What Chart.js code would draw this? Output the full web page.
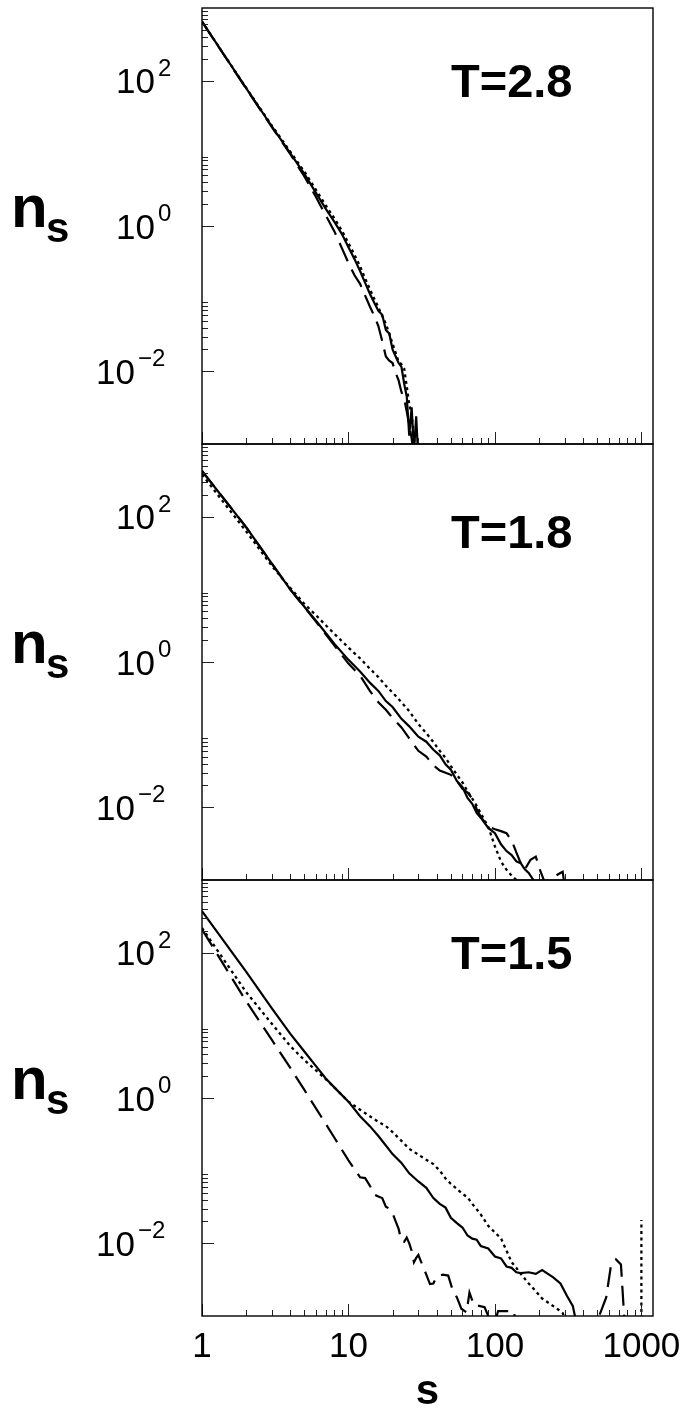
<!DOCTYPE html>
<html>
<head>
<meta charset="utf-8">
<script src="https://cdn.jsdelivr.net/npm/chart.js@4.4.1/dist/chart.umd.min.js"></script>
<style>
html,body{margin:0;padding:0;background:#fff;overflow:hidden;}
#wrap{position:relative;width:687px;height:1412px;}
canvas{position:absolute;left:0;top:0;}
</style>
</head>
<body>
<div id="wrap">
<canvas id="c1"></canvas>
<canvas id="c2"></canvas>
<canvas id="c3"></canvas>
</div>
<script>
// ---------------- data ----------------
// Panel T=2.8
const s1 = [1,2,3,4,5,6,7,8,9,10,11,12,13,14,15,16,17,18,19,20,21,22,23,24,25,26,27,28,29,30];
const solid1  = [650,79,23.4,10.1,5.2,2.86,1.72,1.15,0.78,0.51,0.35,0.24,0.165,0.117,0.088,0.068,0.060,0.037,0.033,0.020,0.016,0.013,0.0115,0.0068,0.0045,0.0013,0.0032,0.0008,0.0024,0.0006];
const dotted1 = [650,80,24,10.6,5.6,3.15,1.92,1.28,0.87,0.58,0.40,0.28,0.19,0.135,0.10,0.076,0.058,0.045,0.033,0.024,0.018,0.0135,0.0125,0.011,0.0062,0.0035,0.0026,0.0012,0.0007,0.0004];
const dashed1 = [650,78,23,9.8,4.8,2.5,1.4,0.85,0.5,0.31,0.21,0.16,0.11,0.078,0.058,0.042,0.026,0.016,0.014,0.013,0.0095,0.0075,0.0052,0.0042,0.0028,0.0018,0.0012,0.0006,0.0004,0.0003];

// Panel T=1.8
const s2 = [1,2,3,4,5,6,7,8,10,12,14,16,18,20,23,26,30,34,38,42,46,50,55,60,65,70,75,80,90,100,110,120,130,140,150,160,170,180,190];
const solid2  = [427,72,22.6,10.0,5.75,3.69,2.51,1.78,1.07,0.74,0.52,0.40,0.29,0.24,0.165,0.13,0.094,0.080,0.062,0.052,0.039,0.033,0.023,0.019,0.0135,0.0112,0.0084,0.0072,0.0052,0.0044,0.0031,0.0025,0.0022,0.0018,0.0017,0.0014,0.00125,0.00105,0.0009];
const dotted2 = [380,63,21,10.5,6.3,4.4,3.2,2.45,1.58,1.12,0.81,0.62,0.47,0.38,0.28,0.21,0.14,0.105,0.079,0.060,0.048,0.037,0.028,0.022,0.0166,0.0132,0.0105,0.0083,0.0054,0.0029,0.0018,0.00138,0.00115,0.001,0.0008,0.0006,0.0004,0.0003,0.0002];
const s2Dashed = [1,2,3,4,5,6,7,8,10,12,14,16,18,20,23,26,30,34,38,42,46,50,55,60,65,70,75,80,90,100,110,120,130,140,150,160,175,190,205,220,250,270,290,300];
const dashed2 = [427,72,22.6,10.0,5.7,3.6,2.4,1.7,0.95,0.65,0.40,0.28,0.22,0.17,0.126,0.089,0.060,0.050,0.038,0.032,0.030,0.028,0.023,0.018,0.016,0.0132,0.0095,0.0074,0.0054,0.0050,0.0047,0.0044,0.0035,0.0024,0.0017,0.0014,0.0019,0.0021,0.0013,0.0009,0.00107,0.0012,0.0013,0.0008];

// Panel T=1.5
const s3Solid = [1,2,3,4,5,6,7,8,10,12,14,16,18,20,23,26,30,34,38,42,46,50,55,60,65,70,75,80,90,100,110,120,130,140,150,170,190,210,230,250,280,310,340,360];
const solid3  = [372,55,17.1,7.7,4.36,2.75,1.86,1.40,0.89,0.56,0.41,0.30,0.222,0.169,0.128,0.092,0.071,0.058,0.042,0.035,0.031,0.0225,0.019,0.0165,0.0128,0.0116,0.0112,0.0092,0.0085,0.0066,0.0062,0.0048,0.0046,0.0040,0.0039,0.0040,0.0038,0.0043,0.0038,0.0034,0.0028,0.0019,0.00138,0.0008];
const s3Dotted = [1,2,3,4,5,6,7,8,10,12,14,16,18,20,23,26,30,34,38,42,46,50,55,60,65,70,75,80,90,100,110,120,130,140,150,170,190,210,240,270,290,310,330,999,1000];
const dotted3 = [219,28.7,10.5,5.2,3.33,2.4,1.82,1.40,0.89,0.69,0.56,0.47,0.41,0.34,0.257,0.20,0.166,0.141,0.123,0.10,0.078,0.066,0.056,0.048,0.043,0.035,0.0295,0.025,0.0174,0.0141,0.0117,0.0079,0.0055,0.0046,0.0038,0.0028,0.0022,0.00174,0.00145,0.00123,0.0011,0.0008,0.0005,0.00001,0.021];
const s3Dashed = [1,2,3,4,5,6,7,8,9,10,11,12,13,14,15,16,17,18,19,20,21,22,23,24,25,26,27,28,29,30,32,34,36,38,40,44,48,51,55,59,64,67,72,78,85,92,100,105,120,135,140,450,530,575,620,670,725,765,800];
const dashed3 = [209,21.5,6.3,2.61,1.29,0.72,0.44,0.286,0.195,0.139,0.105,0.081,0.079,0.062,0.047,0.044,0.042,0.032,0.030,0.026,0.020,0.0158,0.0107,0.0105,0.012,0.010,0.0079,0.0055,0.0063,0.0069,0.0050,0.0037,0.00275,0.0028,0.0035,0.0037,0.0036,0.0024,0.0018,0.00126,0.00112,0.0021,0.0014,0.00138,0.00132,0.0009,0.0008,0.00117,0.00117,0.00117,0.00063,0.0005,0.00117,0.0018,0.005,0.006,0.0051,0.0009,0.0005];

const panelLabels = ['T=2.8','T=1.8','T=1.5'];

// tick definitions
const xMajorTicks = [1,10,100,1000];
const xTickLabels = ['1','10','100','1000'];
const xMinorDecades = [1,10,100];
const yMajorTicks = [1e-2,1,1e2];
const yMinorDecades = [1e-2,1,1e2];
const xRange = [1,1200];
const yRange = [1e-3,1e3];

// ---------------- layout ----------------
const W = 687, H = 1412;
const PLOT_LEFT = 202, PLOT_RIGHT = 653;
const PANEL_TOP = [8,444,880];
const PANEL_H = 436;
const LABEL_BASE = [89,104,89];

const FONT = '"Liberation Sans", Arial, Helvetica, sans-serif';
Chart.defaults.font.family = FONT;

function pts(xs, ys){ return xs.map((v,i)=>({x:v,y:ys[i]})); }

const decor = {
  id:'decor',
  afterDatasetsDraw(chart, args, opts){
    const {ctx, chartArea:a, scales:{x,y}} = chart;
    ctx.save();
    // ticks
    ctx.strokeStyle = '#222';
    ctx.lineWidth = 1;
    ctx.beginPath();
    yMinorDecades.forEach(d=>{
      for(let m=2;m<=9;m++){
        const py = Math.round(y.getPixelForValue(m*d))+0.5;
        ctx.moveTo(a.left,py); ctx.lineTo(a.left+6,py);
      }
    });
    yMajorTicks.forEach(v=>{
      const py = Math.round(y.getPixelForValue(v))+0.5;
      ctx.moveTo(a.left,py); ctx.lineTo(a.left+12,py);
    });
    xMinorDecades.forEach(d=>{
      for(let m=2;m<=9;m++){
        const px = Math.round(x.getPixelForValue(m*d))+0.5;
        ctx.moveTo(px,a.bottom); ctx.lineTo(px,a.bottom-6);
      }
    });
    xMajorTicks.forEach(v=>{
      const px = Math.round(x.getPixelForValue(v))+0.5;
      ctx.moveTo(px,a.bottom); ctx.lineTo(px,a.bottom-12);
    });
    ctx.stroke();
    // frame
    ctx.strokeStyle = '#000';
    ctx.lineWidth = 1.4;
    ctx.strokeRect(a.left, a.top, a.right-a.left, a.bottom-a.top);
    // y labels 10^k
    ctx.fillStyle = '#000';
    ctx.textBaseline = 'alphabetic';
    yMajorTicks.forEach(v=>{
      const e = Math.round(Math.log10(v));
      const py = y.getPixelForValue(v);
      const sup = e<0 ? '\u2212'+(-e) : String(e);
      const rx = a.left - 47 - (e<0 ? 20 : 0);
      ctx.font = '35px '+FONT;
      ctx.textAlign = 'right';
      ctx.fillText('10', rx, py+12.5);
      ctx.font = '24px '+FONT;
      ctx.textAlign = 'left';
      ctx.fillText(sup, rx+3, py-5);
    });
    // n_s
    ctx.textAlign = 'left';
    ctx.font = 'bold 60px '+FONT;
    ctx.fillText('n', 11, a.top+219);
    ctx.font = 'bold 42px '+FONT;
    ctx.fillText('s', 46, a.top+234);
    // panel label
    ctx.font = 'bold 47px '+FONT;
    ctx.fillText(opts.label, a.left+249, a.top+opts.labelBase);
    ctx.restore();
  }
};

function makeChart(id, idx, series){
  const isBottom = idx===2;
  const top = PANEL_TOP[idx];
  const bottomPad = isBottom ? 0 : H - (top+PANEL_H);
  const styles = [
    {borderDash:[], width:2.2},
    {borderDash:[3,3.5], width:2.3},
    {borderDash:[20,9], width:2.2}
  ];
  const cv = document.getElementById(id);
  return new Chart(cv, {
    type:'line',
    data:{
      datasets: series.map((s,i)=>({
        data: pts(s[0], s[1]),
        borderColor:'#000',
        borderWidth:styles[i].width,
        borderDash: styles[i].borderDash,
        borderCapStyle:'butt',
        pointRadius:0,
        tension:0,
        fill:false,
        clip:0
      }))
    },
    options:{
      responsive:false,
      animation:false,
      events:[],
      layout:{padding:{left:0,right:W-PLOT_RIGHT,top:top,bottom:bottomPad}},
      plugins:{
        legend:{display:false},
        tooltip:{enabled:false},
        decor:{label:panelLabels[idx], labelBase:LABEL_BASE[idx]}
      },
      scales:{
        x:{
          type:'logarithmic',
          min:xRange[0], max:xRange[1],
          display:isBottom,
          position:'bottom',
          grid:{display:false, drawTicks:false},
          border:{display:false},
          afterBuildTicks(sc){ sc.ticks = xMajorTicks.map(v=>({value:v})); },
          afterFit(sc){
            if(isBottom) sc.height = H-(top+PANEL_H);
            sc.paddingLeft = 0; sc.paddingRight = 0;
          },
          ticks:{
            autoSkip:false, maxRotation:0, minRotation:0,
            padding:10, color:'#000',
            font:{size:35, family:FONT},
            callback(v){ const k = xMajorTicks.indexOf(v); return k>=0 ? xTickLabels[k] : ''; }
          },
          title:{
            display:isBottom, text:'s', color:'#000',
            font:{size:42, weight:'bold', family:FONT, lineHeight:0.8},
            padding:{top:0,bottom:3}
          }
        },
        y:{
          type:'logarithmic',
          min:yRange[0], max:yRange[1],
          display:true,
          position:'left',
          grid:{display:false, drawTicks:false},
          border:{display:false},
          ticks:{display:false},
          afterBuildTicks(sc){ sc.ticks = yMajorTicks.map(v=>({value:v})); },
          afterFit(sc){ sc.width = PLOT_LEFT; sc.paddingTop = 0; sc.paddingBottom = 0; }
        }
      }
    },
    plugins:[decor]
  });
}

[ 'c1','c2','c3' ].forEach(id=>{ const c=document.getElementById(id); c.width=W; c.height=H; });

makeChart('c1', 0, [[s1,solid1],[s1,dotted1],[s1,dashed1]]);
makeChart('c2', 1, [[s2,solid2],[s2,dotted2],[s2Dashed,dashed2]]);
makeChart('c3', 2, [[s3Solid,solid3],[s3Dotted,dotted3],[s3Dashed,dashed3]]);
</script>
</body>
</html>
